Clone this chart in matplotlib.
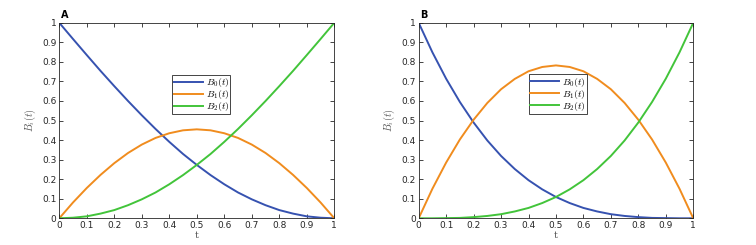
import matplotlib
matplotlib.use("Agg")
import matplotlib.pyplot as plt

# parameter values
t = [0.00, 0.05, 0.10, 0.15, 0.20, 0.25, 0.30, 0.35, 0.40, 0.45, 0.50,
     0.55, 0.60, 0.65, 0.70, 0.75, 0.80, 0.85, 0.90, 0.95, 1.00]

# panel A basis functions
a_b0 = [1.000, 0.917, 0.835, 0.754, 0.676, 0.600, 0.527, 0.457, 0.391, 0.329, 0.273,
        0.221, 0.174, 0.132, 0.097, 0.067, 0.042, 0.024, 0.010, 0.003, 0.000]
a_b1 = [0.000, 0.081, 0.155, 0.222, 0.282, 0.334, 0.377, 0.411, 0.435, 0.450, 0.455,
        0.450, 0.435, 0.411, 0.377, 0.334, 0.282, 0.222, 0.155, 0.081, 0.000]
a_b2 = [0.000, 0.003, 0.010, 0.024, 0.042, 0.067, 0.097, 0.132, 0.174, 0.221, 0.273,
        0.329, 0.391, 0.457, 0.527, 0.600, 0.676, 0.754, 0.835, 0.917, 1.000]

# panel B basis functions
b_b0 = [1.000, 0.849, 0.714, 0.595, 0.490, 0.398, 0.319, 0.252, 0.195, 0.148, 0.109,
        0.078, 0.053, 0.035, 0.021, 0.012, 0.006, 0.002, 0.001, 0.000, 0.000]
b_b1 = [0.000, 0.151, 0.285, 0.403, 0.504, 0.590, 0.660, 0.713, 0.752, 0.774, 0.782,
        0.774, 0.752, 0.713, 0.660, 0.590, 0.504, 0.403, 0.285, 0.151, 0.000]
b_b2 = [0.000, 0.000, 0.001, 0.002, 0.006, 0.012, 0.021, 0.035, 0.053, 0.078, 0.109,
        0.148, 0.195, 0.252, 0.319, 0.398, 0.490, 0.595, 0.714, 0.849, 1.000]

labels = ["$B_0(t)$", "$B_1(t)$", "$B_2(t)$"]
colors = ["#3652b0", "#f08c1e", "#42c43a"]

plt.rcParams["font.family"] = "DejaVu Sans"
plt.rcParams["mathtext.fontset"] = "cm"

fig = plt.figure(figsize=(7.56, 2.45), dpi=100)
ax_a = fig.add_axes([0.0784, 0.109, 0.3638, 0.798])
ax_b = fig.add_axes([0.5538, 0.109, 0.3632, 0.798])

panels = [(ax_a, "A", [a_b0, a_b1, a_b2], (0.517, 0.633)),
          (ax_b, "B", [b_b0, b_b1, b_b2], (0.507, 0.635))]

for ax, letter, series, legpos in panels:
    for ys, lab, col in zip(series, labels, colors):
        ax.plot(t, ys, color=col, lw=1.4, label=lab)
    ax.set_xlim(0, 1)
    ax.set_ylim(0, 1)
    ax.set_xticks([i / 10 for i in range(11)])
    ax.set_yticks([i / 10 for i in range(11)])
    ax.set_xticklabels(["0"] + [f"{i / 10:g}" for i in range(1, 10)] + ["1"])
    ax.set_yticklabels(["0"] + [f"{i / 10:g}" for i in range(1, 10)] + ["1"])
    ax.tick_params(direction="in", length=3, width=0.6, labelsize=6.5,
                   colors="#262626", top=True, right=True, pad=2)
    for sp in ax.spines.values():
        sp.set_color("#262626")
        sp.set_linewidth(0.6)
    ax.set_xlabel("t", fontsize=7, color="#555555", labelpad=1,
                  family="serif")
    ax.set_ylabel("$B_i(t)$", fontsize=7.5, color="#555555", labelpad=3)
    ax.text(0.005, 1.015, letter, transform=ax.transAxes, fontsize=7,
            fontweight="bold", va="bottom", ha="left")
    leg = ax.legend(loc="center", bbox_to_anchor=legpos, fontsize=7,
                    handlelength=3.0, handletextpad=0.3, borderpad=0.12,
                    labelspacing=-0.1, fancybox=False, framealpha=1,
                    edgecolor="#262626", borderaxespad=0)
    leg.get_frame().set_linewidth(0.6)

fig.savefig("out.png", dpi=100)
